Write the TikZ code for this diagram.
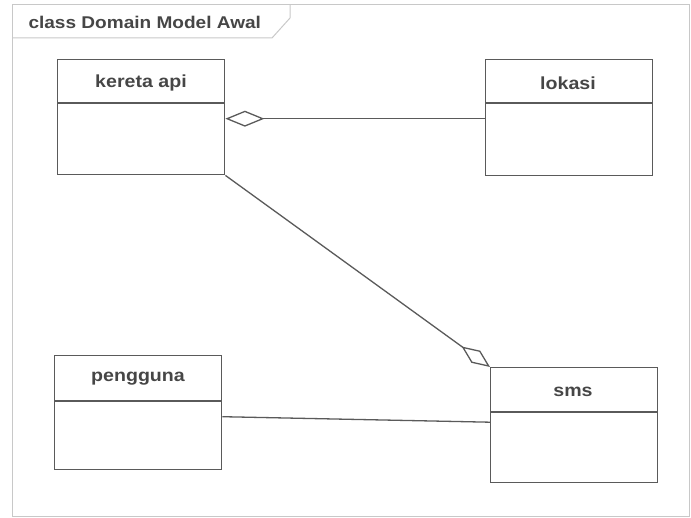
\documentclass[tikz,border=0pt]{standalone}
\usepackage{fontspec}
\setmainfont{Liberation Sans}
\newfontfamily\umlfont{Liberation Sans}[FakeStretch=1.12]
\usetikzlibrary{arrows.meta}
\definecolor{linegray}{RGB}{90,90,90}
\definecolor{textgray}{RGB}{70,70,70}
\definecolor{framegray}{RGB}{200,200,200}
\begin{document}
\begin{tikzpicture}[x=1pt,y=-1pt,
  classbox/.style={draw=linegray, line width=1.4pt, rectangle, anchor=north west, inner sep=0pt},
  classname/.style={font=\umlfont\bfseries\fontsize{17.5}{19}\selectfont, text=textgray},
  conn/.style={draw=linegray, line width=1.3pt},
  agg/.tip={Diamond[open, length=39pt, width=16pt, line width=1.3pt]},
  aggb/.tip={Diamond[open, length=35pt, width=15pt, line width=1.3pt]}]
\useasboundingbox (0,0) rectangle (691,518);
% frame
\draw[framegray, line width=1pt] (12,5) rectangle (689,516);
\draw[framegray, line width=1pt] (12,38) -- (272,38) -- (290,18) -- (290,5);
\node[font=\umlfont\bfseries\fontsize{17}{19}\selectfont, text=textgray, anchor=west] (title) at (25,22) {class Domain Model Awal};
% classes
\node[classbox, minimum width=167pt, minimum height=115pt] (kereta) at (57,59) {};
\draw[linegray, line width=1.4pt] (57,103) -- (224,103);
\node[classname] (keretan) at (141,83) {kereta api};

\node[classbox, minimum width=167pt, minimum height=116pt] (lokasi) at (485,59) {};
\draw[linegray, line width=1.4pt] (485,103) -- (652,103);
\node[classname] (lokasin) at (568,83) {lokasi};

\node[classbox, minimum width=167pt, minimum height=114pt] (pengguna) at (54,355) {};
\draw[linegray, line width=1.4pt] (54,401) -- (221,401);
\node[classname] (penggunan) at (138,379) {pengguna};

\node[classbox, minimum width=167pt, minimum height=115pt] (sms) at (490,367) {};
\draw[linegray, line width=1.4pt] (490,412) -- (657,412);
\node[classname] (smsn) at (573,392) {sms};
% connectors
\draw[conn, {agg}-] ([yshift=-1.5pt]kereta.east) -- ([yshift=-1pt]lokasi.west);
\draw[conn, -{aggb}] (kereta.south east) -- (sms.north west);
\draw[conn] ([yshift=-4pt]pengguna.east) -- ([yshift=3pt]sms.west);
\end{tikzpicture}
\end{document}
